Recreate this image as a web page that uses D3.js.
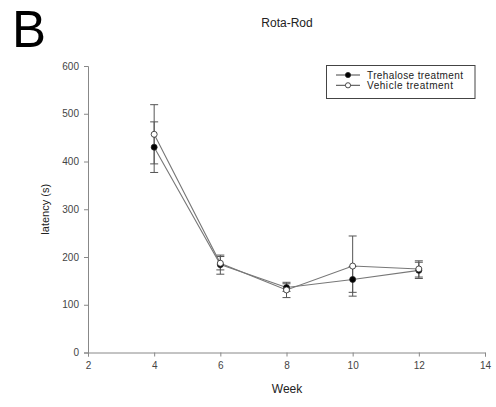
<!DOCTYPE html>
<html>
<head>
<meta charset="utf-8">
<script src="https://cdn.jsdelivr.net/npm/d3@7"></script>
<style>
  body { margin: 0; background: #fff; }
  svg { display: block; font-family: "Liberation Sans", Arial, sans-serif; }
</style>
</head>
<body>
<svg id="chart" width="496" height="407"></svg>
<script>
// Rota-Rod latency by week, mean ± error
const weeks = [4, 6, 8, 10, 12];
const trehaloseMean = [430, 184, 136, 153, 172];
const trehaloseErr  = [53, 20, 8, 27, 17];
const vehicleMean   = [457, 187, 131, 181, 175];
const vehicleErr    = [62, 14, 16, 63, 17];
const xTicks = [2, 4, 6, 8, 10, 12, 14];
const yTicks = [0, 100, 200, 300, 400, 500, 600];
const seriesNames = ["Trehalose treatment", "Vehicle treatment"];

const svg = d3.select("#chart");
const plotLeft = 88, plotRight = 485, plotTop = 66, plotBottom = 352.5;

const x = d3.scaleLinear().domain([2, 14]).range([plotLeft, plotRight]);
const y = d3.scaleLinear().domain([0, 600]).range([plotBottom, plotTop]);

const axisColor = "#888";
const textColor = "#444";

// Axes
const xAxis = svg.append("g")
  .attr("transform", `translate(0,${plotBottom})`)
  .call(d3.axisBottom(x).tickValues(xTicks).tickSize(4).tickPadding(5));
const yAxis = svg.append("g")
  .attr("transform", `translate(${plotLeft},0)`)
  .call(d3.axisLeft(y).tickValues(yTicks).tickSize(4).tickPadding(5));
[xAxis, yAxis].forEach(g => {
  g.selectAll("path, line").attr("stroke", axisColor);
  g.selectAll("text").attr("fill", textColor).attr("font-size", 10)
    .attr("font-family", "Liberation Sans, Arial, sans-serif");
});

// Titles
svg.append("text").attr("x", 12).attr("y", 47)
  .attr("font-size", 51).attr("fill", "#000").text("B");
svg.append("text").attr("x", 287).attr("y", 27).attr("text-anchor", "middle")
  .attr("font-size", 12).attr("fill", "#222").text("Rota-Rod");
svg.append("text").attr("x", 287).attr("y", 393).attr("text-anchor", "middle")
  .attr("font-size", 12).attr("fill", "#222").text("Week");
svg.append("text")
  .attr("transform", `translate(49,${(plotTop + plotBottom) / 2}) rotate(-90)`)
  .attr("text-anchor", "middle").attr("font-size", 11).attr("fill", "#222")
  .text("latency (s)");

const series = [
  { mean: trehaloseMean, err: trehaloseErr, fill: "#000" },
  { mean: vehicleMean, err: vehicleErr, fill: "#fff" }
];

const line = d3.line().x(d => x(d.w)).y(d => y(d.m));
const capW = 4;

series.forEach(s => {
  const pts = weeks.map((w, i) => ({ w, m: s.mean[i], e: s.err[i] }));
  // error bars
  const eb = svg.append("g").attr("stroke", "#555").attr("stroke-width", 1);
  pts.forEach(p => {
    eb.append("line").attr("x1", x(p.w)).attr("x2", x(p.w))
      .attr("y1", y(p.m - p.e)).attr("y2", y(p.m + p.e));
    [p.m - p.e, p.m + p.e].forEach(v => {
      eb.append("line").attr("x1", x(p.w) - capW).attr("x2", x(p.w) + capW)
        .attr("y1", y(v)).attr("y2", y(v));
    });
  });
});

series.forEach(s => {
  const pts = weeks.map((w, i) => ({ w, m: s.mean[i] }));
  svg.append("path").datum(pts).attr("d", line)
    .attr("fill", "none").attr("stroke", "#777").attr("stroke-width", 1.1);
});

series.forEach(s => {
  const pts = weeks.map((w, i) => ({ w, m: s.mean[i] }));
  svg.append("g").selectAll("circle").data(pts).join("circle")
    .attr("cx", d => x(d.w)).attr("cy", d => y(d.m)).attr("r", 3)
    .attr("fill", s.fill).attr("stroke", "#222").attr("stroke-width", 0.8);
});

// Legend
const lg = svg.append("g");
lg.append("rect").attr("x", 326.5).attr("y", 65.5).attr("width", 148.5).attr("height", 33)
  .attr("fill", "#fff").attr("stroke", "#444").attr("stroke-width", 1);
seriesNames.forEach((name, i) => {
  const yy = 75 + i * 10.3;
  lg.append("line").attr("x1", 336).attr("x2", 360).attr("y1", yy).attr("y2", yy)
    .attr("stroke", "#444").attr("stroke-width", 1);
  lg.append("circle").attr("cx", 348).attr("cy", yy).attr("r", 2.6)
    .attr("fill", series[i].fill).attr("stroke", "#222").attr("stroke-width", 0.8);
  lg.append("text").attr("x", 367).attr("y", yy + 3.6).attr("font-size", 10)
    .attr("textLength", i === 0 ? 96 : 86).attr("lengthAdjust", "spacing")
    .attr("fill", "#222").text(name);
});
</script>
</body>
</html>
